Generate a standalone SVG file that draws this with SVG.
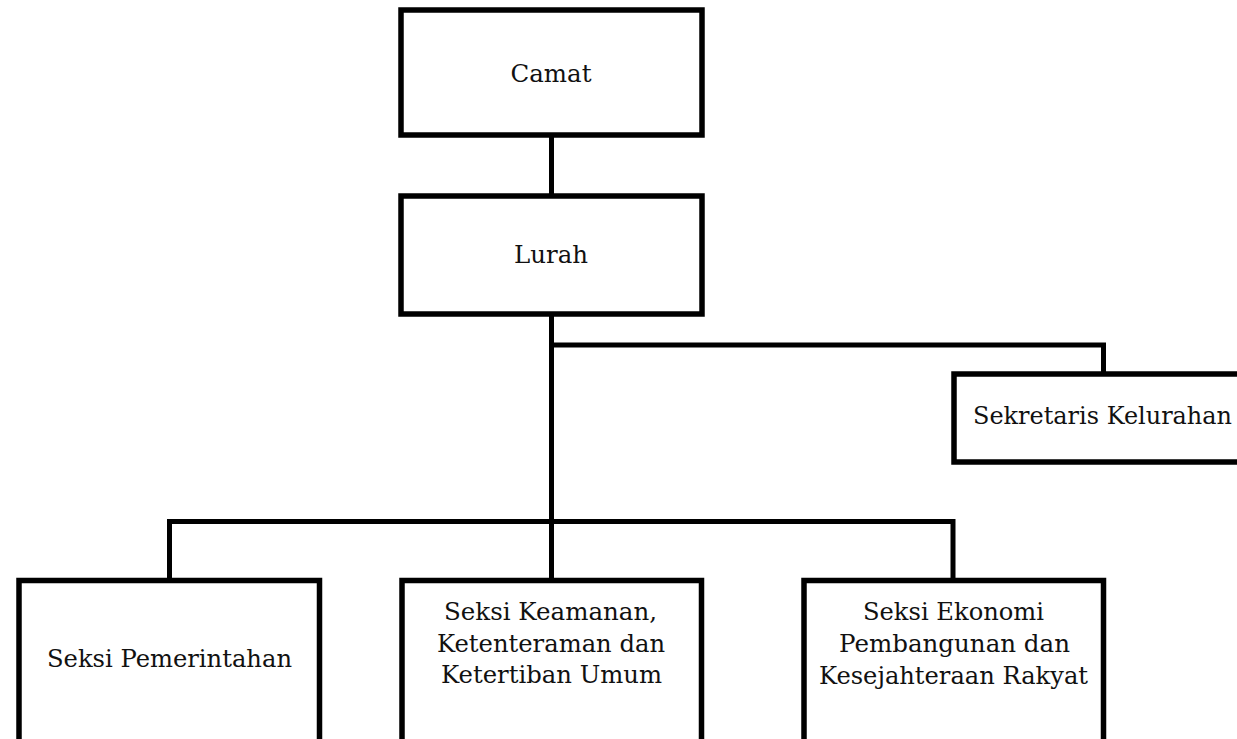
<svg xmlns="http://www.w3.org/2000/svg" width="1237" height="739" viewBox="0 0 1237 739">
<style>
.box{fill:#fff;stroke:#000;stroke-width:5.5}
.con{fill:none;stroke:#000;stroke-width:5}
text{font-family:"DejaVu Serif","Liberation Serif",serif;font-size:25px;fill:#111;text-anchor:middle}
</style>
<rect width="1237" height="739" fill="#fff"/>
<g id="connectors">
<line class="con" x1="551.5" y1="135" x2="551.5" y2="196"/>
<line class="con" x1="551.5" y1="314" x2="551.5" y2="522"/>
<polyline class="con" points="551.5,345 1103.5,345 1103.5,374"/>
<polyline class="con" points="169.5,580 169.5,521.5 953,521.5 953,580"/>
<line class="con" x1="551.5" y1="521" x2="551.5" y2="580"/>
</g>
<g id="camat"><rect class="box" x="401" y="10" width="301" height="125"/><text x="551" y="82" textLength="81" lengthAdjust="spacingAndGlyphs">Camat</text></g>
<g id="lurah"><rect class="box" x="401" y="196" width="301" height="118"/><text x="551" y="263" textLength="74" lengthAdjust="spacingAndGlyphs">Lurah</text></g>
<g id="sekretaris"><path class="box" d="M1237,374 H954 V462 H1237"/><text x="1232" y="424" style="text-anchor:end" textLength="259" lengthAdjust="spacingAndGlyphs">Sekretaris Kelurahan</text></g>
<g id="pemerintahan"><path class="box" d="M19,739 V580.5 H319.5 V739"/><text x="169.5" y="667" textLength="245" lengthAdjust="spacingAndGlyphs">Seksi Pemerintahan</text></g>
<g id="keamanan"><path class="box" d="M402,739 V580.5 H701.5 V739"/>
<text x="550.5" y="620" textLength="213" lengthAdjust="spacingAndGlyphs">Seksi Keamanan,</text>
<text x="551" y="652" textLength="228" lengthAdjust="spacingAndGlyphs">Ketenteraman dan</text>
<text x="551.5" y="683" textLength="221" lengthAdjust="spacingAndGlyphs">Ketertiban Umum</text></g>
<g id="ekonomi"><path class="box" d="M804,739 V580.5 H1103.5 V739"/>
<text x="953.5" y="620" textLength="181" lengthAdjust="spacingAndGlyphs">Seksi Ekonomi</text>
<text x="954.5" y="652" textLength="231" lengthAdjust="spacingAndGlyphs">Pembangunan dan</text>
<text x="953.5" y="684" textLength="269" lengthAdjust="spacingAndGlyphs">Kesejahteraan Rakyat</text></g>
</svg>
